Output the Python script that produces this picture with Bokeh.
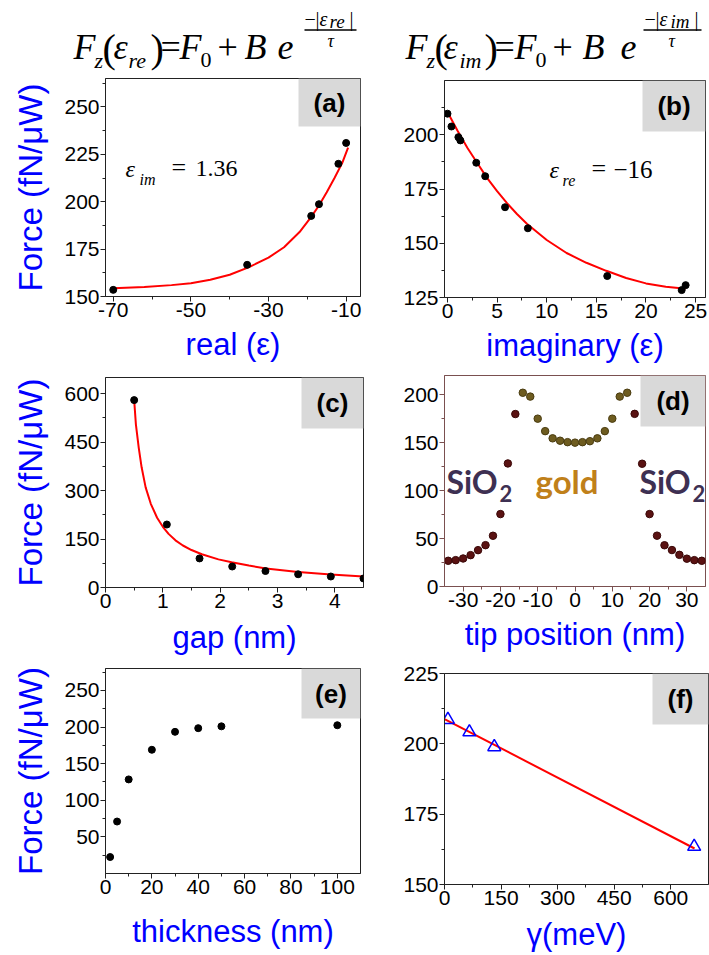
from bokeh.plotting import figure
from bokeh.layouts import column, row
from bokeh.models import Range1d, FixedTicker, BoxAnnotation
from bokeh.core.properties import value
from bokeh.embed import file_html
from bokeh.resources import INLINE

# ---------------- data ----------------
# (a) force vs real part of permittivity
a_eps_re = [-70, -35.5, -19, -17, -12, -10]
a_force = [153.5, 166.7, 192.5, 198.7, 220, 231]
a_fit_x = [-70, -62, -55, -50, -45, -40, -35, -30, -26, -22, -19, -17, -15, -13, -11, -9.5]
a_fit_y = [154.3, 155, 156, 157, 158.8, 161.5, 165.5, 170.5, 176, 184, 192, 198, 205, 212.5, 220.5, 228.5]

# (b) force vs imaginary part of permittivity
b_eps_im = [0, 0.4, 1.1, 1.3, 2.9, 3.8, 5.8, 8.1, 16.1, 23.6, 24.0]
b_force = [209.7, 203.8, 198.9, 197.4, 187.1, 180.9, 166.6, 156.9, 134.9, 128.4, 130.7]
b_fit_x = [0, 1, 2, 3, 4, 5, 6, 7, 8, 10, 12, 14, 16, 18, 20, 22, 24]
b_fit_y = [210.5, 202, 194, 187, 180, 174, 168.5, 163.5, 159, 151.5, 145.5, 141, 137.3, 134, 131.5, 130, 129]

# (c) force vs gap
c_gap = [0.5, 1.07, 1.64, 2.21, 2.79, 3.36, 3.93, 4.5]
c_force = [580, 195, 90, 65, 51, 41, 34, 28]
c_fit_x = [0.5, 0.53, 0.58, 0.63, 0.7, 0.79, 0.9, 1.0, 1.1, 1.22, 1.35, 1.5, 1.68, 1.97,
           2.2, 2.5, 2.8, 3.36, 3.93, 4.5]
c_fit_y = [580, 505, 432, 372, 310, 259, 216, 188, 166, 146, 130, 116, 103, 87,
           78, 68, 59, 48, 40, 34]

# (d) force vs tip position
d_sio2_left_x = [-34, -32, -30, -28, -26, -24, -22, -20, -18, -16]
d_sio2_left_y = [26.8, 27.5, 29.2, 32.7, 37.9, 43.1, 52.9, 75.5, 128.3, 179.8]
d_gold_x = [-14, -12, -10, -8, -6, -4, -2, 0, 2, 4, 6, 8, 10, 12, 14]
d_gold_y = [202, 198, 175, 162, 154.5, 152, 150.5, 150, 150.5, 151.5, 154.5, 162, 175, 198, 202]
d_sio2_right_x = [16, 18, 20, 22, 24, 26, 28, 30, 32, 34]
d_sio2_right_y = [180, 128, 75.5, 53, 43, 38, 33, 29, 27.5, 26.8]

# (e) force vs thickness
e_thick = [2, 5, 10, 20, 30, 40, 50, 100]
e_force = [22.5, 71, 128.5, 169, 193.5, 198.5, 201, 202.5]

# (f) force vs damping gamma
f_gamma = [9, 66, 132, 662]
f_force = [208.6, 204.2, 198.9, 163.5]
f_fit_x = [0, 663]
f_fit_y = [208.8, 162.8]

# ---------------- layout geometry (pixels) ----------------
HDR_H = 76
G = {
    "a": dict(x=(-72, -6.3), y=(150, 265), fl=100, ft=78, fw=255, fh=218, l=100, r=35, t=2, b=75),
    "b": dict(x=(-0.3, 26), y=(125, 225), fl=442, ft=80, fw=261, fh=217, l=52, r=6, t=4, b=74),
    "c": dict(x=(0, 4.5), y=(0, 650), fl=103, ft=377, fw=258, fh=210, l=103, r=29, t=6, b=75),
    "d": dict(x=(-35, 35), y=(0, 220), fl=444, ft=375, fw=261, fh=211, l=54, r=4, t=4, b=75),
    "e": dict(x=(0, 110), y=(0, 280), fl=105, ft=668, fw=255, fh=205, l=105, r=30, t=6, b=82),
    "f": dict(x=(0, 700), y=(150, 225), fl=439, ft=673, fw=264, fh=211, l=49, r=6, t=12, b=74),
}

SANS = "Liberation Sans"
SERIF = "Liberation Serif"
BLUE = "#0000ff"
BASE_FIX = 0.37   # empirical shift of the alphabetic baseline (em)


def P(key, px, py):
    g = G[key]
    x0, x1 = g["x"]
    y0, y1 = g["y"]
    return (x0 + (px - g["fl"]) * (x1 - x0) / g["fw"],
            y1 - (py - g["ft"]) * (y1 - y0) / g["fh"])


def put(p, key, segs):
    for txt, px, py, size, font, style, color in segs:
        py = py - BASE_FIX * size
        if key is None:
            x, y = px, py
        else:
            x, y = P(key, px, py)
        p.text(x=[x], y=[y], text=[txt], text_font=value(font),
               text_font_size=f"{size}px", text_font_style=style,
               text_color=color, text_baseline="alphabetic", text_align="left")


def make(key, xt, xm, yt, ym, xlabel, ylabel, xstd, ystd=12, lc="#222222"):
    g = G[key]
    p = figure(x_range=Range1d(*g["x"]), y_range=Range1d(*g["y"]),
               frame_width=g["fw"], frame_height=g["fh"],
               min_border_left=g["l"], min_border_right=g["r"],
               min_border_top=g["t"], min_border_bottom=g["b"],
               output_backend="svg", toolbar_location=None, title=None)
    p.grid.visible = False
    p.outline_line_color = lc
    p.outline_line_width = 1
    p.background_fill_color = "white"
    p.border_fill_color = "white"
    p.xaxis.ticker = FixedTicker(ticks=xt, minor_ticks=xm)
    p.yaxis.ticker = FixedTicker(ticks=yt, minor_ticks=ym)
    p.xaxis.major_label_overrides = {t: f"{t:g}" for t in xt}
    p.yaxis.major_label_overrides = {t: f"{t:g}" for t in yt}
    for ax in p.axis:
        ax.major_label_text_font = SANS
        ax.major_label_text_font_size = "21px"
        ax.major_label_text_color = "black"
        ax.axis_label_text_font = SANS
        ax.axis_label_text_font_size = "31px"
        ax.axis_label_text_font_style = "normal"
        ax.axis_label_text_color = BLUE
        ax.major_tick_out = 5
        ax.major_tick_in = 0
        ax.minor_tick_out = 3
        ax.minor_tick_in = 0
        ax.axis_line_color = lc
        ax.major_tick_line_color = lc
        ax.minor_tick_line_color = lc
        ax.major_label_standoff = 1
    p.xaxis.axis_label = xlabel
    p.xaxis.axis_label_standoff = xstd
    if ylabel:
        p.yaxis.axis_label = ylabel
        p.yaxis.axis_label_standoff = ystd
        p.yaxis.axis_label_text_font_size = "33px"
    return p


def tag(p, key, txt, px0, px1, py0, py1):
    x0, y1 = P(key, px0, py0)
    x1, y0 = P(key, px1, py1)
    p.add_layout(BoxAnnotation(left=x0, right=x1, bottom=y0, top=y1,
                               fill_color="#d9d9d9", fill_alpha=1.0,
                               line_color=None, level="underlay"))
    cx, cy = P(key, (px0 + px1) / 2, (py0 + py1) / 2)
    p.text(x=[cx], y=[cy], text=[txt], text_font=value(SANS),
           text_font_size="26px", text_font_style="bold", text_color="black",
           text_align="center", text_baseline="middle")


FORCE = "Force (fN/\u03bcW)"

# ---------------- header with formulas ----------------
hdr = figure(x_range=Range1d(0, 709), y_range=Range1d(HDR_H, 0),
             frame_width=709, frame_height=HDR_H, min_border=0,
             output_backend="svg", toolbar_location=None, title=None,
             x_axis_location=None, y_axis_location=None)
hdr.outline_line_color = None
hdr.grid.visible = False

I, N = "italic", "normal"
K = "black"
put(hdr, None, [
    ("F", 73, 60, 36, SERIF, I, K), ("z", 94, 68, 22, SERIF, I, K),
    ("(", 102, 63, 40, SERIF, N, K), ("\u03b5", 113, 60, 36, SERIF, I, K),
    ("re", 128, 68, 22, SERIF, I, K), (")", 150, 63, 40, SERIF, N, K),
    ("=", 160, 60, 36, SERIF, N, K), ("F", 179, 60, 36, SERIF, I, K),
    ("0", 200, 68, 22, SERIF, N, K), ("+", 217, 60, 36, SERIF, N, K),
    ("B", 244, 60, 36, SERIF, I, K), ("e", 277, 60, 36, SERIF, I, K),
    ("\u2212", 304, 26, 20, SERIF, N, K), ("|", 315, 26, 20, SERIF, N, K),
    ("\u03b5", 319, 26, 20, SERIF, I, K), ("re", 329, 28, 19, SERIF, I, K),
    ("|", 349, 26, 20, SERIF, N, K), ("\u03c4", 327, 47, 18, SERIF, I, K),
])
put(hdr, None, [
    ("F", 405, 60, 36, SERIF, I, K), ("z", 426, 68, 22, SERIF, I, K),
    ("(", 434, 63, 40, SERIF, N, K), ("\u03b5", 443, 60, 36, SERIF, I, K),
    ("im", 459, 68, 22, SERIF, I, K), (")", 484, 63, 40, SERIF, N, K),
    ("=", 494, 60, 36, SERIF, N, K), ("F", 514, 60, 36, SERIF, I, K),
    ("0", 535, 68, 22, SERIF, N, K), ("+", 552, 60, 36, SERIF, N, K),
    ("B", 582, 60, 36, SERIF, I, K), ("e", 620, 60, 36, SERIF, I, K),
    ("\u2212", 644, 26, 20, SERIF, N, K), ("|", 655, 26, 20, SERIF, N, K),
    ("\u03b5", 659, 26, 20, SERIF, I, K), ("im", 670, 28, 19, SERIF, I, K),
    ("|", 694, 26, 20, SERIF, N, K), ("\u03c4", 668, 47, 18, SERIF, I, K),
])
hdr.segment(x0=[304, 643], y0=[29.5, 29.5], x1=[356, 701], y1=[29.5, 29.5],
            line_color="black", line_width=1.3)

# ---------------- (a) ----------------
pa = make("a", [-70, -50, -30, -10], [-60, -40, -20],
          [150, 175, 200, 225, 250], [162.5, 187.5, 212.5, 237.5, 262.5],
          "real (\u03b5)", FORCE, 7)
pa.line(a_fit_x, a_fit_y, line_color="#ff0000", line_width=2)
pa.scatter(a_eps_re, a_force, size=7, color="black")
tag(pa, "a", "(a)", 293, 355, 78, 126)
put(pa, "a", [
    ("\u03b5", 120, 177, 24, SERIF, I, K), ("im", 134, 185, 16, SERIF, I, K),
    ("=", 166, 177, 26, SERIF, N, K), ("1.36", 190, 177, 24, SERIF, N, K),
])

# ---------------- (b) ----------------
pb = make("b", [0, 5, 10, 15, 20, 25], [2.5, 7.5, 12.5, 17.5, 22.5],
          [125, 150, 175, 200], [137.5, 162.5, 187.5, 212.5],
          "imaginary (\u03b5)", None, 7)
pb.line(b_fit_x, b_fit_y, line_color="#ff0000", line_width=2)
pb.scatter(b_eps_im, b_force, size=7, color="black")
tag(pb, "b", "(b)", 640, 703, 80, 131)
put(pb, "b", [
    ("\u03b5", 547, 178, 24, SERIF, I, K), ("re", 560, 186, 16, SERIF, I, K),
    ("=", 589, 178, 26, SERIF, N, K), ("\u221216", 611, 178, 25, SERIF, N, K),
])

# ---------------- (c) ----------------
pc = make("c", [0, 1, 2, 3, 4], [0.5, 1.5, 2.5, 3.5],
          [0, 150, 300, 450, 600], [75, 225, 375, 525],
          "gap (nm)", FORCE, 9)
pc.line(c_fit_x, c_fit_y, line_color="#ff0000", line_width=2)
pc.scatter(c_gap, c_force, size=7, color="black")
tag(pc, "c", "(c)", 299, 361, 377, 428)

# ---------------- (d) ----------------
DL = "#7a5050"
pd_ = make("d", [-30, -20, -10, 0, 10, 20, 30], [-25, -15, -5, 5, 15, 25],
           [0, 50, 100, 150, 200], [25, 75, 125, 175],
           "tip position (nm)", None, 7, lc=DL)
pd_.scatter(d_sio2_left_x, d_sio2_left_y, size=7.5, fill_color="#5a1212", line_color="#3a0808")
pd_.scatter(d_sio2_right_x, d_sio2_right_y, size=7.5, fill_color="#5a1212", line_color="#3a0808")
pd_.scatter(d_gold_x, d_gold_y, size=7.5, fill_color="#6e5c20", line_color="#4a3c10")
tag(pd_, "d", "(d)", 640, 705, 375, 426)
SIO = "#3e3052"
GOLD = "#c0801a"
put(pd_, "d", [
    ("SiO", 446, 493, 32, "Lato", "bold", SIO), ("2", 499, 501, 22, "Lato", "bold", SIO),
    ("gold", 535, 493, 33, "Lato", "bold", GOLD),
    ("SiO", 639, 493, 32, "Lato", "bold", SIO), ("2", 692, 501, 22, "Lato", "bold", SIO),
])

# ---------------- (e) ----------------
pe = make("e", [0, 20, 40, 60, 80, 100], [10, 30, 50, 70, 90],
          [50, 100, 150, 200, 250], [25, 75, 125, 175, 225, 275],
          "thickness (nm)", FORCE, 17)
pe.scatter(e_thick, e_force, size=7, color="black")
tag(pe, "e", "(e)", 301, 360, 668, 718)

# ---------------- (f) ----------------
pf = make("f", [0, 150, 300, 450, 600], [75, 225, 375, 525],
          [150, 175, 200, 225], [162.5, 187.5, 212.5],
          "\u03b3(meV)", None, 9)
pf.line(f_fit_x, f_fit_y, line_color="#ff0000", line_width=2)
pf.scatter(f_gamma, f_force, marker="triangle", size=13, fill_color=None,
           line_color=BLUE, line_width=1.5)
tag(pf, "f", "(f)", 647, 703, 673, 724)

layout = column(hdr, row(column(pa, pc, pe), column(pb, pd_, pf)))
open("out.html", "w").write(file_html(layout, INLINE))
